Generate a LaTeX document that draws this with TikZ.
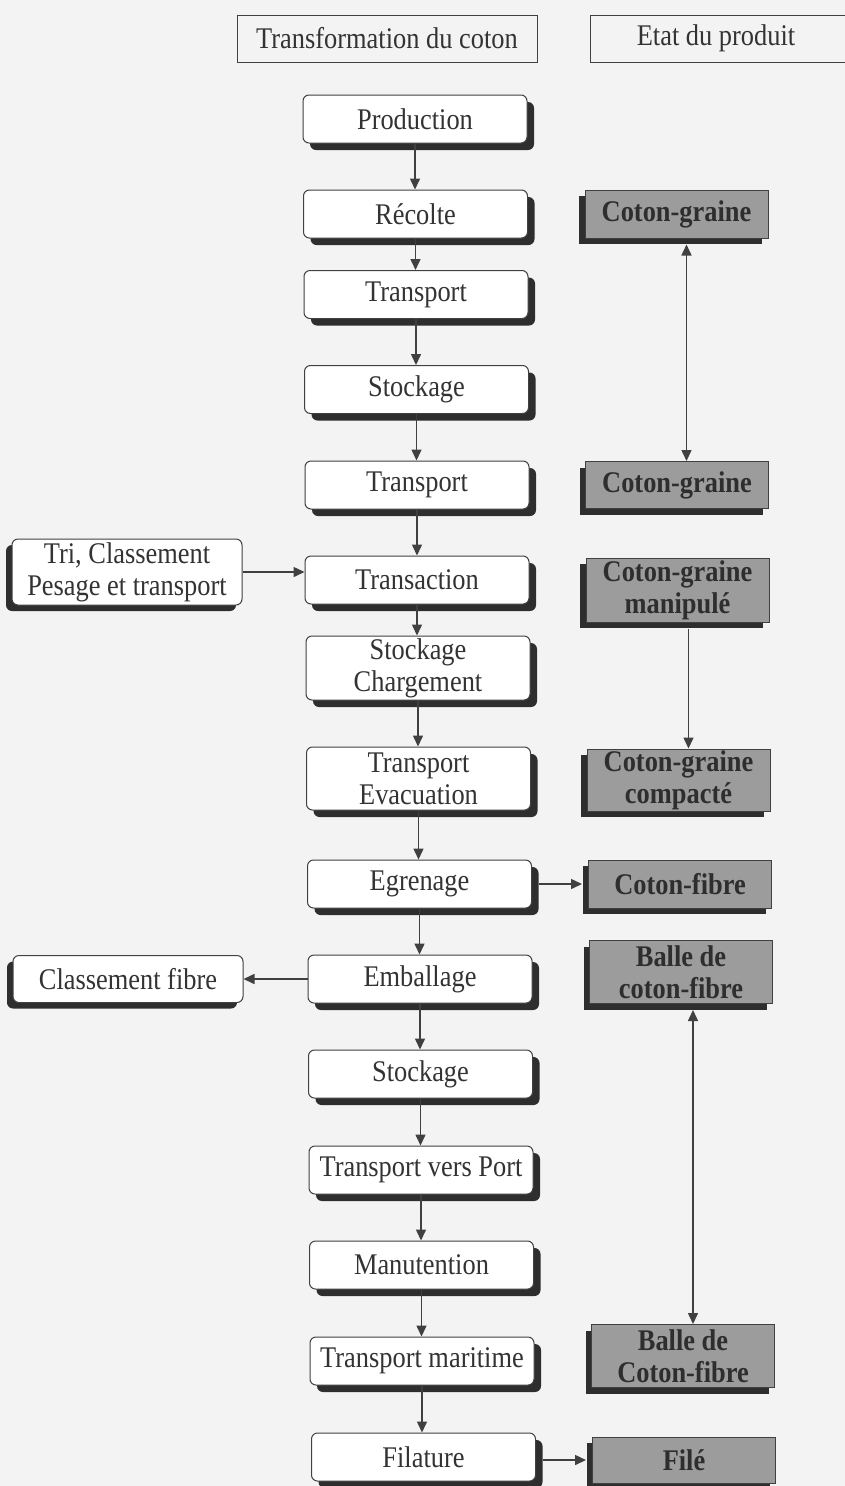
\documentclass[tikz,border=0pt]{standalone}
\usepackage{fontspec}
\setmainfont{Liberation Serif}[FakeStretch=0.88]
\usetikzlibrary{shadows,arrows.meta}
\definecolor{bgc}{HTML}{F3F3F3}
\definecolor{linec}{HTML}{404040}
\definecolor{textc}{HTML}{333333}
\definecolor{shadowc}{HTML}{2E2E2E}
\definecolor{grayfill}{HTML}{9C9C9C}
\newcommand{\mainfs}{\fontsize{30}{32}\selectfont}
\tikzset{
  mainbox/.style={draw=linec, line width=1pt, rounded corners=6pt, fill=white,
    minimum width=224pt, minimum height=48pt, align=center, inner sep=0pt,
    font=\mainfs, text=textc,
    drop shadow={shadow xshift=7pt, shadow yshift=-7pt, fill=shadowc, opacity=1}},
  sidebox/.style={draw=linec, line width=1pt, rounded corners=6pt, fill=white,
    minimum width=230pt, minimum height=47pt, align=center, inner sep=0pt,
    font=\mainfs, text=textc,
    drop shadow={shadow xshift=-6pt, shadow yshift=-6pt, fill=shadowc, opacity=1}},
  graybox/.style={draw=linec, line width=1pt, fill=grayfill,
    minimum width=183pt, minimum height=48pt, align=center, inner sep=0pt,
    font=\mainfs\bfseries, text=shadowc,
    drop shadow={shadow xshift=-6pt, shadow yshift=-6pt, fill=shadowc, opacity=1}},
  headbox/.style={draw=linec, line width=1pt, fill=none, inner sep=0pt,
    minimum height=47pt, font=\mainfs, text=textc},
  arrow/.style={draw=linec, line width=1.5pt, -{Triangle[length=11pt,width=10pt]}},
  dblarrow/.style={draw=linec, line width=1.5pt, {Triangle[length=11pt,width=10pt]}-{Triangle[length=11pt,width=10pt]}},
}
\begin{document}
\begin{tikzpicture}[x=1pt,y=-1pt]
\fill[bgc] (0,0) rectangle (845,1486);
\useasboundingbox (0,0) rectangle (845,1486);
% headers
\node[headbox, minimum width=300pt] (h1) at (387,38.5) {Transformation du coton};
\node[headbox, minimum width=262pt] (h2) at (721,38.5) {\hspace*{-10pt}Etat du produit};
% main column
\node[mainbox] (prod) at (415,119) {Production};
\node[mainbox] (rec) at (415.5,214) {Récolte};
\node[mainbox] (tr1) at (416,294.5) {Transport};
\node[mainbox] (st1) at (416.5,389.5) {Stockage};
\node[mainbox] (tr2) at (417,485) {Transport};
\node[mainbox] (trans) at (417,580) {Transaction};
\node[mainbox, minimum height=64pt] (stch) at (418,668) {Stockage\\Chargement};
\node[mainbox, minimum height=63pt] (trev) at (418.5,778.5) {Transport\\Evacuation};
\node[mainbox] (egr) at (419.5,884) {Egrenage};
\node[mainbox] (emb) at (420,979) {Emballage};
\node[mainbox] (st2) at (420.5,1074) {Stockage};
\node[mainbox] (trp) at (421,1170) {Transport vers Port};
\node[mainbox] (man) at (421.5,1265) {Manutention};
\node[mainbox] (trm) at (422,1361) {Transport maritime};
\node[mainbox] (fil) at (423.5,1457) {Filature};
% side boxes
\node[sidebox, minimum height=66pt] (tri) at (127,572) {Tri, Classement\\Pesage et transport};
\node[sidebox] (cls) at (128,979) {Classement fibre};
% gray boxes
\node[graybox] (cg1) at (676.5,214) {Coton-graine};
\node[graybox, minimum height=47pt] (cg2) at (677,485) {Coton-graine};
\node[graybox, minimum height=64pt] (cgm) at (677.5,590) {Coton-graine\\manipulé};
\node[graybox, minimum height=62pt] (cgc) at (678.5,780) {Coton-graine\\compacté};
\node[graybox] (cf) at (680,884) {Coton-fibre};
\node[graybox, minimum height=63pt] (bcf1) at (681,972) {Balle de\\coton-fibre};
\node[graybox, minimum height=63pt] (bcf2) at (683,1356) {Balle de\\Coton-fibre};
\node[graybox, minimum height=46pt] (file) at (684,1460) {Filé};
% main column arrows
\foreach \a/\b in {prod/rec, rec/tr1, tr1/st1, st1/tr2, tr2/trans, trans/stch, stch/trev,
  trev/egr, egr/emb, emb/st2, st2/trp, trp/man, man/trm, trm/fil}{
  \draw[arrow] (\a.south) -- (\a.south |- \b.north);
}
% side arrows
\draw[arrow] (tri.east) -- (tri.east -| trans.west);
\draw[arrow] (emb.west) -- (emb.west -| cls.east);
\draw[arrow] ([xshift=7pt]egr.east) -- ([xshift=-6pt]egr.east -| cf.west);
\draw[arrow] ([xshift=7pt]fil.east |- file.west) -- ([xshift=-6pt]file.west);
% right column arrows
\draw[dblarrow] ([xshift=10pt,yshift=-6pt]cg1.south) -- ([xshift=10pt]cg1.south |- cg2.north);
\draw[arrow] ([xshift=11pt,yshift=-6pt]cgm.south) -- ([xshift=11pt]cgm.south |- cgc.north);
\draw[dblarrow] ([xshift=12pt,yshift=-6pt]bcf1.south) -- ([xshift=12pt]bcf1.south |- bcf2.north);
\end{tikzpicture}
\end{document}
